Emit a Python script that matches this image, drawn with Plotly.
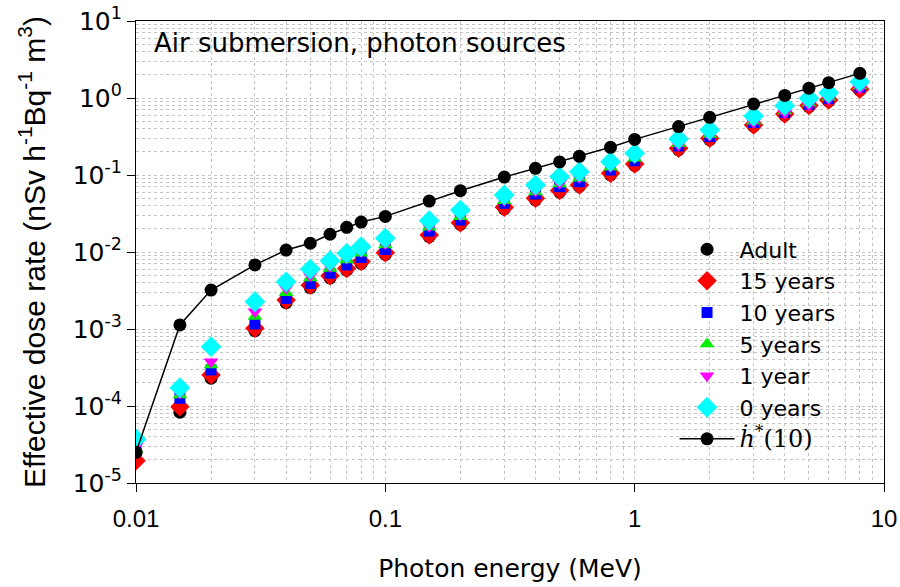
import plotly.graph_objects as go

energy = [0.01, 0.015, 0.02, 0.03, 0.04, 0.05, 0.06, 0.07, 0.08, 0.1, 0.15, 0.2,
          0.3, 0.4, 0.5, 0.6, 0.8, 1, 1.5, 2, 3, 4, 5, 6, 8]

adult = [2.5e-5, 8.3e-5, 2.3e-4, 9.5e-4, 2.2e-3, 3.45e-3, 4.6e-3, 5.8e-3, 7.1e-3, 9.3e-3,
         0.0158, 0.0229, 0.0362, 0.0476, 0.060, 0.071, 0.100, 0.133, 0.213, 0.287,
         0.43, 0.60, 0.77, 0.91, 1.26]
y15 = [1.95e-5, 9.8e-5, 2.53e-4, 1.02e-3, 2.38e-3, 3.7e-3, 4.9e-3, 6.1e-3, 7.5e-3, 9.8e-3,
       0.0166, 0.024, 0.038, 0.050, 0.063, 0.074, 0.105, 0.139, 0.222, 0.299,
       0.445, 0.62, 0.80, 0.94, 1.30]
y10 = [2.8e-5, 1.26e-4, 2.94e-4, 1.16e-3, 2.5e-3, 3.9e-3, 5.3e-3, 6.8e-3, 8.5e-3, 0.0108,
       0.0187, 0.026, 0.0429, 0.0566, 0.0705, 0.0818, 0.116, 0.153, 0.238, 0.315,
       0.48, 0.65, 0.83, 0.98, 1.38]
y5 = [2.7e-5, 1.39e-4, 3.4e-4, 1.45e-3, 2.96e-3, 4.6e-3, 6.1e-3, 7.9e-3, 9.6e-3, 0.0123,
      0.0209, 0.0288, 0.0464, 0.060, 0.0764, 0.091, 0.126, 0.165, 0.255, 0.335,
      0.50, 0.68, 0.86, 1.02, 1.43]
y1 = [3.0e-5, 1.47e-4, 3.76e-4, 1.68e-3, 3.37e-3, 4.9e-3, 6.5e-3, 8.3e-3, 0.0101, 0.0128,
      0.0215, 0.030, 0.047, 0.062, 0.078, 0.093, 0.128, 0.168, 0.245, 0.325,
      0.48, 0.64, 0.81, 0.97, 1.33]
y0 = [3.7e-5, 1.73e-4, 5.9e-4, 2.26e-3, 4.1e-3, 6.0e-3, 7.7e-3, 9.6e-3, 0.0117, 0.0151,
      0.0255, 0.035, 0.055, 0.074, 0.095, 0.110, 0.149, 0.191, 0.294, 0.384,
      0.583, 0.795, 0.99, 1.17, 1.63]
h10 = [2.5e-5, 1.13e-3, 3.2e-3, 6.8e-3, 0.0106, 0.0130, 0.0170, 0.0209, 0.0245, 0.0290,
       0.0459, 0.0625, 0.094, 0.122, 0.148, 0.175, 0.229, 0.290, 0.425, 0.561,
       0.836, 1.08, 1.34, 1.58, 2.09]

x_tickvals = [0.01, 0.1, 1, 10]
x_ticktext = ["0.01", "0.1", "1", "10"]
y_tickvals = [1e-5, 1e-4, 1e-3, 1e-2, 1e-1, 1, 10]
y_ticktext = ["10<sup>-5</sup>", "10<sup>-4</sup>", "10<sup>-3</sup>", "10<sup>-2</sup>",
              "10<sup>-1</sup>", "10<sup>0</sup>", "10<sup>1</sup>"]

series = [
    ("Adult", adult, "circle", "black", 13),
    ("15 years", y15, "diamond", "red", 15),
    ("10 years", y10, "square", "blue", 11),
    ("5 years", y5, "triangle-up", "#00ee00", 13),
    ("1 year", y1, "triangle-down", "magenta", 13),
    ("0 years", y0, "diamond", "cyan", 16),
]

WIDE = "DejaVu Sans, Verdana, sans-serif"
ARIAL = "Liberation Sans, Arial, sans-serif"

fig = go.Figure()
for name, vals, sym, col, sz in series:
    fig.add_trace(go.Scatter(x=energy, y=vals, mode="markers", name=name,
                             marker=dict(symbol=sym, color=col, size=sz, line=dict(width=0))))
fig.add_trace(go.Scatter(x=energy, y=h10, mode="lines+markers",
                         name="<span style='font-family:DejaVu Serif;font-size:24px'><i>ḣ</i><sup>*</sup>(10)</span>",
                         line=dict(color="black", width=1.5),
                         marker=dict(symbol="circle", color="black", size=13)))

grid = dict(gridcolor="#c4c4c4", griddash="dot", gridwidth=1)
fig.update_xaxes(type="log", range=[-2, 1], tickvals=x_tickvals, ticktext=x_ticktext,
                 automargin=False,
                 showline=True, linecolor="black", linewidth=1.2, mirror=True,
                 ticks="outside", ticklen=8, tickcolor="black", ticklabelstandoff=6,
                 showgrid=True, **grid,
                 minor=dict(dtick="D1", showgrid=True, ticks="", **grid),
                 tickfont=dict(size=24, color="black", family=ARIAL),
                 title=dict(text="Photon energy (MeV)", font=dict(size=25, color="black", family=WIDE),
                            standoff=28),
                 zeroline=False)
fig.update_yaxes(type="log", range=[-5, 1], tickvals=y_tickvals, ticktext=y_ticktext,
                 automargin=False,
                 showline=True, linecolor="black", linewidth=1.2, mirror=True,
                 ticks="outside", ticklen=8, tickcolor="black",
                 showgrid=True, **grid,
                 minor=dict(dtick="D1", showgrid=True, ticks="", **grid),
                 tickfont=dict(size=25, color="black", family=WIDE),
                 title=dict(text="Effective dose rate (nSv h<sup>-1</sup>Bq<sup>-1</sup> m<sup>3</sup>)",
                            font=dict(size=30, color="black", family=ARIAL), standoff=18),
                 zeroline=False)

fig.add_annotation(x=0, y=0.952, xref="paper", yref="paper", xanchor="left", yanchor="middle",
                   xshift=16, showarrow=False,
                   text="Air submersion, photon sources", font=dict(size=26, color="black", family=WIDE))

fig.update_layout(
    width=900, height=587,
    margin=dict(l=136, r=16, t=21, b=104, autoexpand=False),
    paper_bgcolor="white", plot_bgcolor="white",
    font=dict(family=ARIAL, color="black"),
    legend=dict(x=0.72, y=0.551, xanchor="left", yanchor="top",
                bgcolor="rgba(255,255,255,0)", font=dict(size=22, color="black", family=WIDE),
                itemwidth=55, tracegroupgap=0),
)

fig.write_html("out.html")
